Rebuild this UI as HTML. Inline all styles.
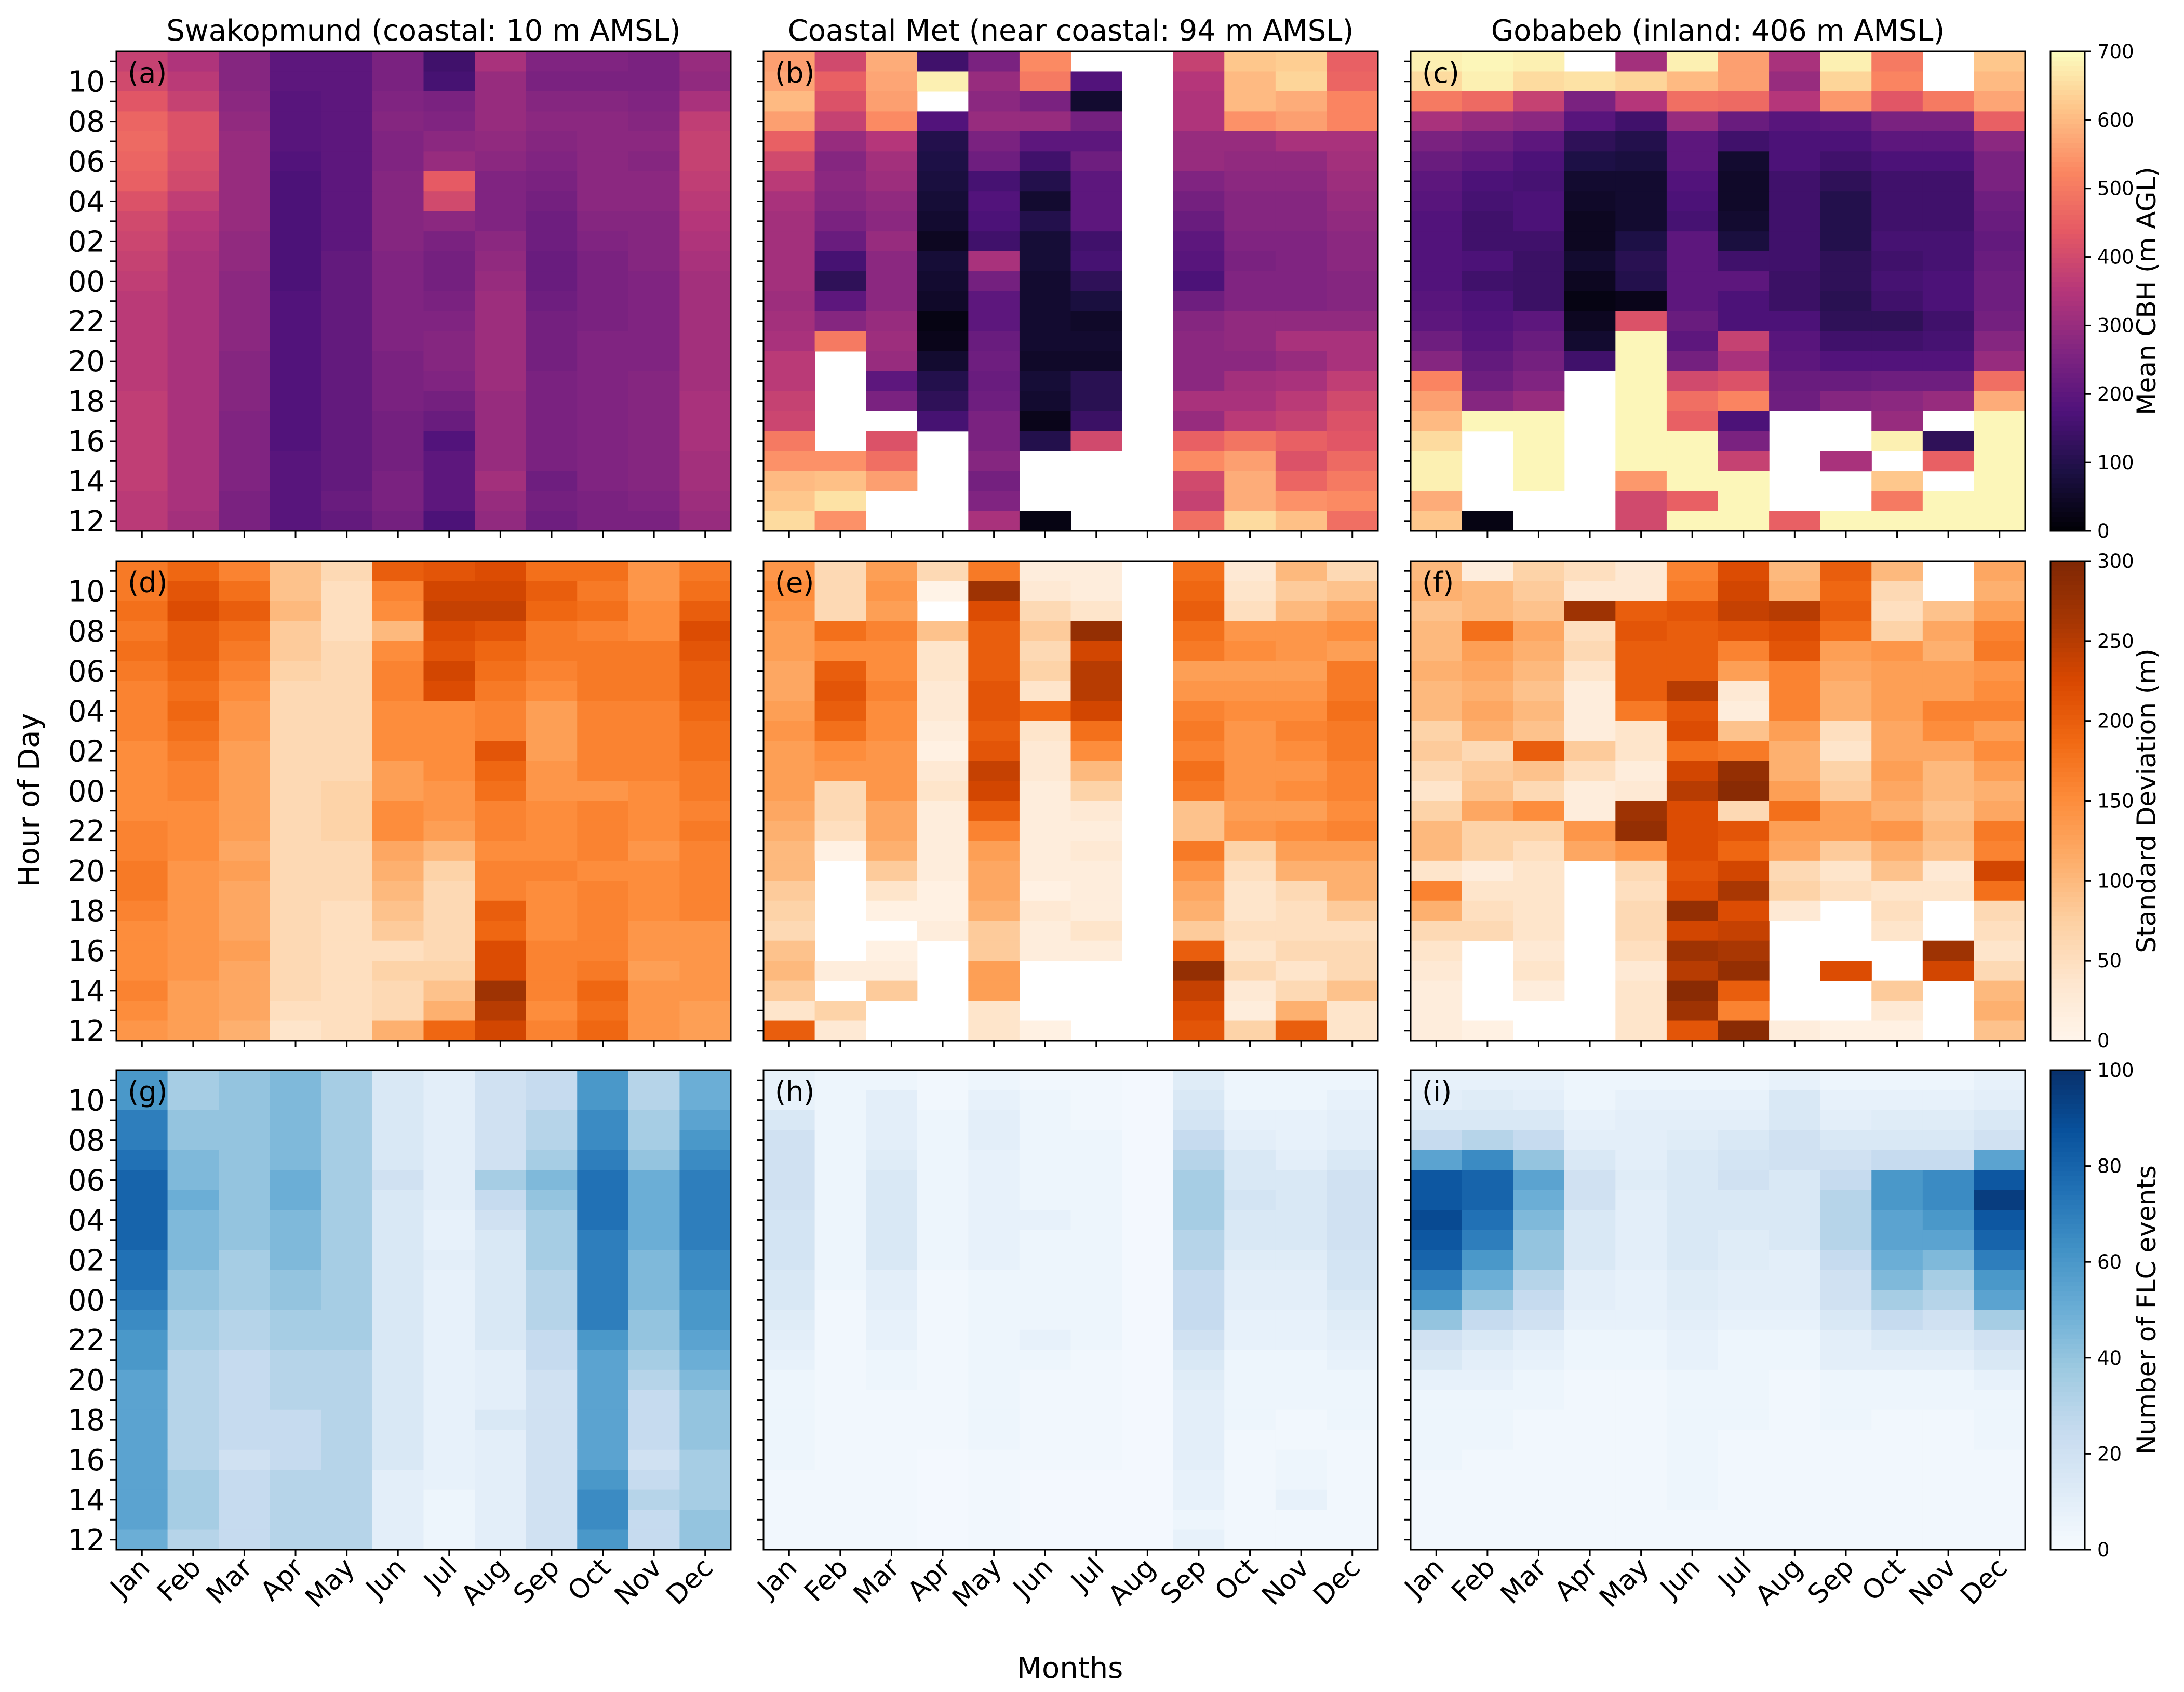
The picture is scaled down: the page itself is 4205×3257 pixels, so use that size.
<!DOCTYPE html>
<html><head><meta charset="utf-8">
<style>
html,body{margin:0;padding:0;background:#fff;}
svg{display:block;font-family:"DejaVu Sans","Liberation Sans",sans-serif;}
</style></head>
<body>
<svg id="fig" width="4205" height="3257" viewBox="0 0 4205 3257" xmlns="http://www.w3.org/2000/svg"></svg>
<script>
const _ = null;
const months = ["Jan","Feb","Mar","Apr","May","Jun","Jul","Aug","Sep","Oct","Nov","Dec"];
const hourRows = ["11","10","09","08","07","06","05","04","03","02","01","00","23","22","21","20","19","18","17","16","15","14","13","12"];
const hourTicks = ["10","08","06","04","02","00","22","20","18","16","14","12"];
const titles = ["Swakopmund (coastal: 10 m AMSL)","Coastal Met (near coastal: 94 m AMSL)","Gobabeb (inland: 406 m AMSL)"];
const cbarLabels = ["Mean CBH (m AGL)","Standard Deviation (m)","Number of FLC events"];
const cbarTicks0 = [0,100,200,300,400,500,600,700];
const cbarTicks1 = [0,50,100,150,200,250,300];
const cbarTicks2 = [0,20,40,60,80,100];

const gridA = [
[380,340,270,200,200,250,150,330,260,260,250,300],
[400,360,270,200,200,250,160,300,250,250,250,290],
[430,380,280,190,200,260,250,300,270,270,260,330],
[460,420,290,190,200,270,260,300,280,280,270,370],
[470,420,300,190,200,260,280,290,270,280,280,380],
[460,410,300,180,200,260,300,280,260,280,270,380],
[450,400,300,170,200,270,440,260,250,280,280,370],
[420,370,300,170,200,270,400,260,240,280,280,360],
[400,350,300,170,200,270,280,260,230,270,270,350],
[390,340,290,170,200,270,250,280,230,260,270,340],
[380,330,290,170,210,260,240,290,220,250,270,330],
[370,330,280,170,210,260,240,300,220,250,260,320],
[360,330,280,180,210,260,250,310,230,250,260,320],
[360,330,280,180,210,260,260,310,240,250,260,320],
[360,330,280,180,210,260,270,310,240,260,260,320],
[360,330,270,180,210,250,270,310,240,260,260,320],
[360,330,270,180,210,250,260,310,250,260,270,320],
[370,330,270,180,210,250,240,300,250,260,270,330],
[370,330,260,180,210,240,220,300,250,260,270,330],
[370,330,260,180,210,240,180,300,250,260,270,330],
[370,330,260,190,210,240,200,300,250,260,270,320],
[370,330,260,190,210,250,200,320,230,260,270,320],
[360,330,250,190,220,250,200,300,240,250,260,310],
[360,320,250,190,210,240,170,290,230,250,250,300]];
const gridB = [
[560,400,580,150,250,530,_,_,380,620,630,450],
[570,450,570,680,300,500,180,_,350,600,640,460],
[600,420,560,_,280,250,60,_,340,600,580,520],
[560,380,530,180,300,300,240,_,340,540,560,520],
[450,300,350,100,250,200,200,_,300,300,330,330],
[400,270,320,90,230,150,230,_,300,290,290,320],
[360,280,310,80,160,100,200,_,260,280,280,310],
[330,270,290,70,180,60,200,_,240,270,270,300],
[320,250,280,60,170,100,200,_,220,270,270,290],
[320,220,300,40,150,70,150,_,200,260,260,280],
[320,160,280,70,330,70,160,_,190,250,260,280],
[320,120,280,60,240,60,120,_,170,260,260,270],
[310,200,280,50,200,60,80,_,230,260,260,270],
[320,270,300,20,200,60,50,_,270,290,290,290],
[330,500,310,30,220,60,60,_,280,290,330,330],
[360,_,300,60,230,50,50,_,280,280,300,330],
[360,_,200,100,220,70,110,_,280,320,330,370],
[380,_,250,120,230,60,110,_,330,330,360,400],
[390,_,_,160,250,30,140,_,300,360,380,420],
[500,_,420,_,250,100,400,_,450,490,450,430],
[540,540,480,_,270,_,_,_,530,560,420,470],
[600,610,560,_,240,_,_,_,400,580,460,500],
[620,660,_,_,260,_,_,_,380,580,540,530],
[650,540,_,_,330,20,_,_,480,650,610,480]];
const gridC = [
[680,690,680,_,320,680,560,330,680,500,_,620],
[650,680,650,660,640,600,560,300,640,520,_,600],
[500,470,380,250,350,480,470,350,550,430,500,570],
[330,300,280,190,150,300,220,190,200,250,250,450],
[250,230,200,120,100,200,150,170,170,200,200,280],
[220,200,170,90,80,200,60,170,150,170,170,250],
[200,170,160,60,60,180,50,150,120,150,150,250],
[190,160,170,50,60,170,50,150,100,150,150,230],
[180,150,170,40,60,160,60,150,100,150,150,220],
[180,150,150,40,90,200,80,150,100,160,160,210],
[180,170,140,60,110,200,150,150,120,150,160,220],
[180,150,140,40,100,200,200,140,120,160,170,230],
[190,170,140,20,30,200,170,140,110,150,170,230],
[200,180,200,40,420,220,170,170,120,120,150,240],
[230,190,220,60,690,200,380,190,150,150,160,270],
[270,210,240,150,690,240,330,200,180,180,180,300],
[520,230,260,_,690,400,420,220,220,230,230,480],
[560,270,300,_,690,480,520,230,270,280,300,580],
[600,690,690,_,690,450,170,_,_,300,_,690],
[650,_,690,_,690,690,250,_,_,680,120,690],
[680,_,690,_,690,690,380,_,330,_,450,690],
[680,_,690,_,550,690,690,_,_,620,_,690],
[580,_,_,_,400,450,690,_,_,500,690,690],
[620,20,_,_,400,690,690,450,690,690,690,690]];
const gridD = [
[170,190,160,90,60,200,210,220,180,180,140,170],
[170,210,180,90,50,160,230,230,200,170,140,180],
[180,220,200,100,50,150,240,240,190,180,150,200],
[170,200,180,80,50,100,220,210,170,160,150,220],
[180,200,170,80,60,150,210,190,170,170,170,210],
[170,190,160,70,60,160,230,180,160,170,170,200],
[160,180,150,60,60,160,220,170,150,170,170,200],
[160,190,140,60,60,150,150,160,130,160,160,190],
[160,180,140,60,60,150,150,160,130,160,160,180],
[150,170,130,60,60,150,150,210,130,160,160,180],
[150,160,130,60,60,130,150,190,140,160,160,170],
[150,160,130,60,70,130,140,180,140,140,150,170],
[150,150,130,60,70,150,140,160,150,160,150,160],
[160,150,130,60,70,150,130,160,150,160,150,170],
[160,150,120,60,60,120,100,150,150,160,140,160],
[170,140,130,60,60,110,70,160,160,150,150,160],
[170,140,120,60,60,100,60,160,150,160,150,160],
[160,140,120,60,50,90,60,200,150,160,150,160],
[150,140,120,60,50,80,60,190,150,160,140,140],
[150,140,130,60,50,50,60,220,160,160,140,140],
[150,140,120,60,50,70,70,220,160,170,130,140],
[160,130,120,60,50,60,90,270,160,190,140,140],
[150,130,120,50,50,60,110,250,150,180,140,130],
[140,130,110,40,50,110,190,230,160,190,140,130]];
const gridE = [
[140,60,130,60,170,20,20,_,180,30,100,60],
[150,60,140,5,270,30,20,_,190,40,80,90],
[140,60,130,_,220,60,40,_,200,50,100,120],
[130,180,160,90,200,80,280,_,180,140,140,150],
[130,150,150,40,200,60,230,_,170,150,140,130],
[120,200,150,40,200,70,250,_,130,130,130,170],
[120,210,160,30,210,40,250,_,140,140,140,170],
[130,200,150,30,210,190,230,_,160,150,150,180],
[140,180,150,20,200,40,180,_,170,140,160,170],
[130,150,140,10,210,30,150,_,160,140,150,170],
[130,140,140,30,240,30,100,_,180,140,140,160],
[130,60,140,40,230,20,70,_,170,140,150,160],
[120,60,120,20,200,20,30,_,90,130,130,150],
[110,50,120,20,160,20,20,_,90,140,150,160],
[100,10,110,20,130,20,30,_,170,70,130,130],
[100,_,80,20,120,20,20,_,140,50,110,110],
[80,_,40,10,120,10,20,_,120,40,60,110],
[70,_,10,10,110,30,20,_,110,40,50,80],
[60,_,_,20,80,20,40,_,80,50,50,50],
[90,_,10,_,80,20,20,_,200,40,60,60],
[100,20,20,_,130,_,_,_,280,60,40,60],
[80,_,80,_,130,_,_,_,240,30,60,90],
[40,70,_,_,40,_,_,_,220,20,110,40],
[200,30,_,_,40,10,_,_,210,70,200,40]];
const gridF = [
[100,20,70,50,30,160,220,100,200,100,_,120],
[110,100,80,30,30,170,230,110,190,60,_,110],
[90,100,90,270,200,210,240,250,200,50,90,130],
[100,180,120,50,210,200,210,220,180,70,120,160],
[100,130,110,60,200,200,160,210,130,140,110,170],
[110,120,100,40,200,200,130,160,120,130,130,140],
[100,110,90,20,200,250,30,160,110,130,130,150],
[100,120,100,20,170,210,20,160,110,130,160,160],
[70,110,90,20,40,220,90,130,50,120,150,130],
[80,60,200,80,40,180,170,110,40,120,120,150],
[60,80,90,50,20,230,280,110,70,130,100,130],
[40,90,60,20,30,250,290,130,80,120,100,110],
[70,120,150,20,270,220,60,180,130,110,90,120],
[100,70,70,140,280,220,210,130,130,140,100,170],
[100,70,50,120,140,220,190,120,80,110,90,160],
[40,20,40,_,60,210,230,60,40,90,30,230],
[160,40,40,_,50,220,260,70,50,40,40,180],
[110,50,40,_,60,280,220,30,_,50,_,60],
[60,60,40,_,60,230,240,_,_,40,_,50],
[40,_,30,_,50,270,260,_,_,_,270,40],
[30,_,40,_,30,250,280,_,220,_,230,60],
[20,_,20,_,40,290,200,_,_,80,_,100],
[20,_,_,_,40,270,160,_,_,30,_,110],
[20,10,_,_,40,210,290,20,10,10,_,90]];
const gridG = [
[60,35,40,45,35,15,10,20,25,60,30,50],
[60,35,40,45,35,15,10,20,25,60,30,50],
[70,40,40,45,35,15,10,20,30,65,35,55],
[70,40,40,45,35,15,10,20,30,65,35,60],
[75,45,40,45,35,15,10,20,35,70,40,65],
[80,45,40,50,35,20,10,35,45,75,50,70],
[80,50,40,50,35,15,10,25,40,75,50,70],
[80,45,40,45,35,15,8,20,35,75,50,70],
[80,45,40,45,35,15,8,15,35,70,50,70],
[75,45,35,45,35,15,10,15,35,70,45,65],
[75,40,35,40,35,15,8,15,30,70,45,65],
[70,40,35,40,35,15,8,15,30,70,45,60],
[65,35,30,35,35,15,8,15,30,70,40,60],
[60,35,30,35,35,15,8,15,25,60,40,55],
[60,30,25,30,30,15,8,10,25,55,35,50],
[55,30,25,30,30,15,8,10,20,55,30,45],
[55,30,25,30,30,15,8,10,20,55,25,40],
[55,30,25,25,30,15,8,15,20,55,25,40],
[55,30,25,25,30,15,8,10,20,55,25,40],
[55,30,20,25,30,15,8,10,20,55,20,35],
[55,35,25,30,30,10,8,10,20,60,25,35],
[55,35,25,30,30,10,5,10,20,65,30,35],
[55,35,25,30,30,10,5,10,20,65,25,40],
[50,30,25,30,30,10,5,10,20,60,25,40]];
const gridH = [
[8,5,5,3,5,3,3,2,12,5,5,5],
[8,5,10,3,8,5,3,2,15,5,5,8],
[15,5,10,5,10,5,3,2,18,8,8,10],
[20,5,10,5,10,5,5,2,25,10,8,10],
[20,5,12,5,8,5,5,2,30,15,10,15],
[20,5,15,5,8,5,5,2,35,15,15,20],
[20,5,15,5,8,5,5,2,35,18,15,20],
[18,5,15,5,8,8,5,2,35,15,15,20],
[18,5,15,5,8,5,5,2,30,15,15,20],
[18,5,15,5,8,5,5,2,30,12,12,18],
[15,5,10,3,5,5,5,2,25,10,10,18],
[15,3,10,3,5,5,5,2,25,10,10,15],
[12,3,8,3,5,5,5,2,25,8,8,12],
[10,3,8,3,5,8,5,2,20,8,8,10],
[8,3,5,3,5,5,3,2,15,5,5,8],
[5,3,5,3,5,3,3,2,12,5,5,5],
[5,3,3,3,5,3,3,2,10,5,5,5],
[5,3,3,3,5,3,3,2,10,5,3,5],
[5,3,3,3,5,3,3,2,10,3,3,3],
[5,3,3,2,3,3,3,2,10,3,5,3],
[3,3,3,2,3,2,2,2,8,3,5,3],
[3,3,3,2,3,2,2,2,8,3,8,3],
[3,3,3,2,3,2,2,2,5,3,3,3],
[3,3,3,2,3,2,2,2,8,3,3,3]];
const gridI = [
[8,8,8,5,5,5,5,8,5,5,5,8],
[10,12,10,5,8,8,8,15,8,8,8,10],
[15,15,15,8,10,10,10,15,10,12,12,15],
[25,30,25,10,10,12,15,20,15,15,15,20],
[55,65,40,15,10,15,18,20,20,25,25,55],
[85,80,55,20,12,15,20,15,25,60,65,85],
[85,80,50,20,10,15,15,15,30,60,65,95],
[90,75,45,15,10,15,15,15,30,55,60,85],
[85,70,40,15,10,15,12,15,30,55,55,80],
[80,60,40,15,10,15,12,10,25,50,45,70],
[70,50,30,10,8,12,10,10,20,45,35,60],
[60,40,25,10,8,12,10,10,20,35,30,55],
[40,25,20,8,8,10,8,8,15,25,20,35],
[20,15,10,5,5,8,5,5,10,15,15,20],
[15,10,8,5,5,8,5,5,10,10,10,15],
[8,8,5,3,3,5,5,3,5,5,5,8],
[5,5,5,3,3,5,5,3,5,5,5,5],
[5,5,3,3,3,5,5,3,5,3,3,5],
[5,5,3,3,3,5,3,3,3,3,3,5],
[5,3,3,3,3,5,3,3,3,3,3,3],
[3,3,3,3,3,5,3,3,3,3,3,3],
[3,3,3,3,3,5,3,3,3,3,3,3],
[3,3,3,3,3,3,3,3,3,3,3,3],
[3,3,3,3,3,3,3,3,3,3,3,3]];

const MAGMA=["#000004","#1c1044","#4f127b","#812581","#b5367a","#e55964","#fb8761","#fec287","#fcfdbf"];
const ORANGES=["#fff5eb","#fee6ce","#fdd0a2","#fdae6b","#fd8d3c","#f16913","#d94801","#a63603","#7f2704"];
const BLUES=["#f7fbff","#deebf7","#c6dbef","#9ecae1","#6baed6","#4292c6","#2171b5","#08519c","#08306b"];
function hex(c){return [parseInt(c.substr(1,2),16),parseInt(c.substr(3,2),16),parseInt(c.substr(5,2),16)];}
function cmap(stops,t){t=Math.max(0,Math.min(1,t));const n=stops.length-1;const i=Math.min(n-1,Math.floor(t*n));const f=t*n-i;const a=hex(stops[i]),b=hex(stops[i+1]);return "rgb("+a.map((v,k)=>Math.round(v+(b[k]-v)*f)).join(",")+")";}

const NS="http://www.w3.org/2000/svg";
const svg=document.getElementById("fig");
function mk(tag,attrs,parent){const e=document.createElementNS(NS,tag);for(const k in attrs)e.setAttribute(k,attrs[k]);(parent||svg).appendChild(e);return e;}

const colX=[224,1470,2716], PW=1183;
const rowY=[99,1080,2060], PH=923;
const rows=[
 {grids:[gridA,gridB,gridC],cm:MAGMA,max:700,ticks:cbarTicks0},
 {grids:[gridD,gridE,gridF],cm:ORANGES,max:300,ticks:cbarTicks1},
 {grids:[gridG,gridH,gridI],cm:BLUES,max:100,ticks:cbarTicks2}];
const letters=["a","b","c","d","e","f","g","h","i"];
const cw=PW/12, ch=PH/24;
function xScale(c,m){return colX[c]+m*cw;}
function yScale(r,h){return rowY[r]+h*ch;}

for(let c=0;c<3;c++){
  const t=mk("text",{x:colX[c]+PW/2,y:78,"text-anchor":"middle","font-size":"56"});
  t.textContent=titles[c];
  
  
}
rows.forEach((R,r)=>{
  R.grids.forEach((G,c)=>{
    const g=mk("g",{});
    
    
    G.forEach((row,h)=>row.forEach((v,m)=>{
      if(v===null)return;
      const cell=mk("rect",{x:xScale(c,m),y:yScale(r,h),width:cw+0.6,height:ch+0.6,fill:cmap(R.cm,v/R.max)},g);
      
      
    }));
    mk("rect",{x:colX[c],y:rowY[r],width:PW,height:PH,fill:"none",stroke:"#000","stroke-width":3},g);
    // y ticks
    for(let h=0;h<24;h++){
      const yy=yScale(r,h)+ch/2;
      mk("line",{x1:colX[c]-13,x2:colX[c],y1:yy,y2:yy,stroke:"#000","stroke-width":3},g);
    }
    if(c===0){
      hourTicks.forEach((lab,i)=>{
        const h=hourRows.indexOf(lab);
        const t=mk("text",{x:colX[c]-22,y:yScale(r,h)+ch/2+20,"text-anchor":"end","font-size":"56"},g);
        t.textContent=lab;
        
        
      });
    }
    // x ticks
    for(let m=0;m<12;m++){
      const xx=xScale(c,m)+cw/2;
      mk("line",{x1:xx,x2:xx,y1:rowY[r]+PH,y2:rowY[r]+PH+13,stroke:"#000","stroke-width":3},g);
      if(r===2){
        const tx=xx+18, ty=rowY[r]+PH+38;
        const t=mk("text",{x:tx,y:ty,"text-anchor":"end","font-size":"52",transform:"rotate(-45 "+tx+" "+ty+")"},g);
        t.textContent=months[m];
        
        
      }
    }
    const pl=mk("text",{x:colX[c]+22,y:rowY[r]+60,"font-size":"54"},g);
    pl.textContent="("+letters[r*3+c]+")";
    
    
  });
  // colorbar
  const cb=mk("g",{});
  
  
  const cx=3948, cwid=66, N=100;
  for(let i=0;i<N;i++){
    mk("rect",{x:cx,y:rowY[r]+PH-(i+1)*PH/N,width:cwid,height:PH/N+0.8,fill:cmap(R.cm,(i+0.5)/N)},cb);
  }
  mk("rect",{x:cx,y:rowY[r],width:cwid,height:PH,fill:"none",stroke:"#000","stroke-width":3},cb);
  R.ticks.forEach(v=>{
    const yy=rowY[r]+PH-v/R.max*PH;
    mk("line",{x1:cx+cwid,x2:cx+cwid+12,y1:yy,y2:yy,stroke:"#000","stroke-width":3},cb);
    const t=mk("text",{x:cx+cwid+24,y:yy+13,"font-size":"37"},cb);
    t.textContent=String(v);
    
    
  });
  const lx=4150, ly=rowY[r]+PH/2;
  const lab=mk("text",{x:lx,y:ly,"text-anchor":"middle","font-size":"50",transform:"rotate(-90 "+lx+" "+ly+")"},cb);
  lab.textContent=cbarLabels[r];
  
  
});
const yl=mk("text",{x:75,y:1540,"text-anchor":"middle","font-size":"56",transform:"rotate(-90 75 1540)"});
yl.textContent="Hour of Day";


const xl=mk("text",{x:2060,y:3230,"text-anchor":"middle","font-size":"56"});
xl.textContent="Months";


</script>
</body></html>
